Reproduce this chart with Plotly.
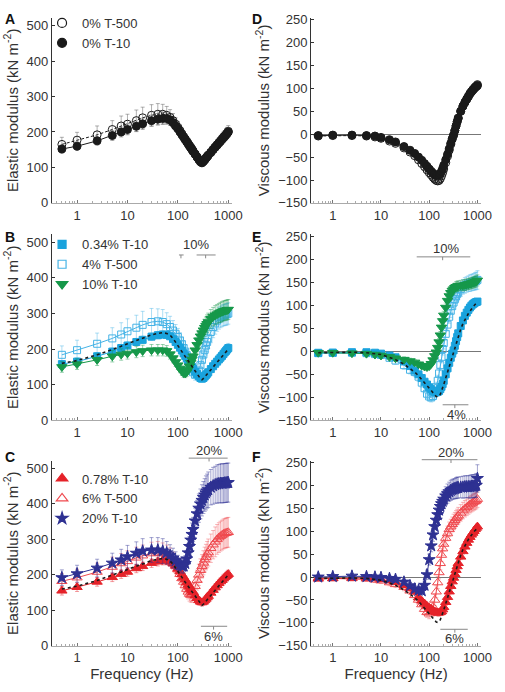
import math
import plotly.graph_objects as go

# ---------------- data ----------------
freq = [0.5, 1, 2.5, 5, 7.5, 10, 15, 20, 30, 40, 50,
        60, 70, 80, 90, 100, 110, 120, 130, 140, 150, 160, 170, 180, 190, 200,
        220, 240, 260, 280, 300, 320, 340, 360, 380, 400,
        450, 500, 550, 600, 650, 700, 750, 800, 850, 900, 950, 1000]

# Panel A (elastic, 0%)
el_0_t10 = [152, 160, 175, 190, 200, 207, 216, 223, 232, 236, 238,
            238, 234, 226, 217, 209, 200, 192, 185, 178, 172, 166, 160, 155, 150, 145,
            137, 129, 122, 116, 113, 117, 121, 126, 130, 134,
            142, 150, 157, 163, 169, 174, 179, 184, 188, 192, 196, 200]
el_0_t500 = [165, 177, 192, 207, 217, 222, 232, 240, 247, 250, 250,
             247, 241, 232, 222, 213, 204, 195, 187, 180, 174, 168, 162, 157, 152, 147,
             138, 130, 123, 117, 114, 117, 122, 127, 131, 135,
             143, 151, 158, 164, 170, 175, 180, 185, 189, 193, 197, 202]
err_el_0_t500 = [20, 22, 25, 25, 28, 28, 30, 30, 30, 30, 28,
                 25, 22, 20, 18, 16, 15, 14, 13, 12, 12, 11, 11, 10, 10, 10,
                 10, 10, 10, 10, 10, 10, 10, 11, 11, 11,
                 12, 12, 13, 13, 14, 14, 15, 15, 15, 16, 16, 16]
err_el_0_t10 = [12, 12, 12, 14, 14, 15, 15, 16, 16, 16, 16,
                15, 14, 13, 12, 12, 11, 11, 10, 10, 10, 10, 9, 9, 9, 9,
                9, 9, 9, 9, 9, 9, 9, 9, 9, 9,
                9, 10, 10, 10, 10, 10, 11, 11, 11, 11, 12, 12]
# control (dashed) elastic curve
ctrl_el = [160, 168, 184, 198, 208, 215, 224, 231, 240, 244, 246,
           244, 239, 230, 220, 211, 202, 194, 186, 179, 173, 167, 161, 156, 151, 146,
           138, 130, 123, 117, 114, 117, 121, 126, 130, 134,
           142, 150, 157, 163, 169, 174, 179, 184, 188, 192, 196, 200]

# Panel D (viscous, 0%)
vi_0_t10 = [-3, -2, -2, -3, -4, -7, -12, -17, -27, -35, -42,
            -50, -57, -64, -70, -76, -81, -85, -88, -90, -90, -89, -86, -81, -75, -68,
            -56, -44, -32, -20, -10, -2, 8, 18, 27, 35,
            50, 61, 69, 76, 82, 88, 92, 96, 99, 102, 104, 106]
vi_0_t500 = [-4, -3, -3, -4, -6, -9, -15, -20, -30, -39, -47,
             -56, -64, -71, -78, -84, -89, -94, -98, -101, -102, -101, -97, -91, -84, -76,
             -62, -48, -35, -22, -11, -2, 8, 18, 27, 35,
             50, 61, 70, 77, 83, 89, 93, 97, 100, 103, 105, 108]
err_vi_0 = [4, 4, 4, 4, 4, 4, 4, 4, 5, 5, 5,
            5, 5, 5, 5, 5, 5, 5, 5, 5, 5, 5, 5, 5, 5, 5,
            5, 5, 5, 5, 5, 5, 5, 5, 5, 5,
            5, 5, 5, 6, 6, 6, 6, 6, 7, 7, 7, 8]
ctrl_vi = [-3, -2, -2, -3, -5, -7, -13, -18, -28, -37, -45,
           -53, -61, -68, -75, -81, -86, -91, -95, -98, -99, -97, -93, -87, -80, -72,
           -58, -45, -32, -20, -9, 0, 9, 18, 26, 33,
           48, 60, 69, 76, 82, 87, 92, 96, 99, 102, 104, 106]

# Panel B (elastic)
el_034_t10 = [158, 165, 180, 193, 203, 210, 220, 226, 235, 239, 241,
              240, 236, 228, 220, 212, 204, 196, 188, 181, 174, 167, 161, 155, 150, 145,
              137, 130, 124, 119, 117, 119, 123, 127, 131, 135,
              144, 152, 159, 165, 171, 176, 181, 186, 191, 195, 199, 203]
err_el_034 = [10, 10, 10, 10, 10, 10, 10, 10, 10, 10, 10,
              9, 9, 9, 9, 9, 9, 9, 9, 9, 9, 9, 9, 9, 9, 9,
              9, 9, 9, 9, 9, 9, 10, 10, 10, 10,
              10, 10, 11, 11, 11, 12, 12, 12, 12, 13, 13, 13]
el_4_t500 = [184, 197, 215, 230, 241, 250, 260, 268, 276, 278, 276,
             270, 262, 252, 243, 234, 224, 214, 203, 193, 183, 173, 163, 153, 143, 135,
             128, 130, 140, 155, 170, 185, 198, 210, 220, 230,
             248, 262, 272, 280, 286, 290, 293, 295, 296, 297, 298, 300]
err_el_4 = [25, 28, 30, 30, 33, 35, 35, 38, 38, 35, 35,
            32, 30, 28, 26, 24, 22, 20, 18, 17, 16, 16, 15, 15, 15, 15,
            15, 16, 18, 20, 22, 24, 25, 26, 27, 28,
            30, 30, 30, 30, 30, 30, 30, 30, 30, 30, 30, 30]
el_10_t10 = [150, 158, 170, 180, 185, 188, 192, 195, 197, 197, 197,
             195, 186, 175, 164, 155, 146, 138, 133, 132, 136, 143, 152, 162, 171, 180,
             197, 212, 225, 236, 245, 253, 260, 266, 271, 276,
             285, 291, 295, 298, 301, 303, 305, 307, 308, 309, 310, 311]
err_el_10 = [15, 15, 16, 16, 16, 16, 16, 16, 16, 16, 16,
             15, 14, 13, 12, 12, 12, 12, 12, 12, 12, 13, 14, 15, 16, 17,
             18, 19, 20, 21, 22, 23, 24, 24, 25, 25,
             26, 26, 27, 27, 27, 28, 28, 28, 28, 28, 28, 28]

# Panel E (viscous)
vi_034_t10 = [-4, -3, -2, -2, -3, -5, -9, -13, -22, -32, -42,
              -50, -58, -66, -72, -78, -82, -86, -88, -89, -88, -86, -82, -77, -71, -64,
              -50, -37, -25, -14, -5, 2, 12, 22, 31, 39,
              55, 67, 77, 84, 90, 95, 99, 102, 104, 106, 107, 108]
err_vi_034 = [4, 4, 4, 4, 4, 4, 5, 5, 5, 5, 6,
              6, 6, 6, 7, 7, 7, 7, 7, 7, 7, 7, 7, 7, 7, 7,
              7, 7, 7, 7, 7, 7, 7, 7, 7, 7,
              6, 6, 6, 6, 6, 6, 6, 6, 6, 6, 6, 6]
vi_4_t500 = [-3, -3, -3, -4, -6, -8, -14, -20, -30, -40, -45,
             -55, -68, -80, -92, -98, -100, -97, -90, -78, -64, -48, -30, -12, 5, 18,
             38, 58, 75, 88, 98, 106, 113, 119, 124, 128,
             135, 140, 143, 145, 147, 148, 149, 150, 151, 152, 153, 155]
err_vi_4 = [6, 6, 6, 6, 7, 7, 8, 8, 9, 9, 10,
            10, 10, 10, 10, 10, 10, 10, 11, 11, 12, 12, 12, 13, 13, 13,
            14, 14, 14, 15, 15, 15, 15, 15, 16, 16,
            16, 16, 17, 17, 17, 18, 18, 18, 18, 19, 19, 20]
vi_10_t10 = [-3, -3, -4, -5, -7, -9, -12, -15, -18, -21, -24,
             -28, -31, -33, -34, -32, -27, -19, -10, -2, 8, 20, 35, 52, 66, 78,
             95, 110, 120, 127, 132, 135, 138, 140, 141, 142,
             143, 143, 144, 145, 146, 147, 148, 149, 150, 151, 152, 154]
err_vi_10 = [5, 5, 5, 5, 5, 5, 5, 5, 6, 6, 6,
             6, 6, 6, 6, 6, 6, 7, 7, 7, 8, 8, 8, 9, 9, 9,
             10, 10, 10, 10, 10, 10, 10, 11, 11, 11,
             11, 12, 12, 12, 12, 12, 12, 12, 12, 12, 12, 12]

# Panel C (elastic)
el_078_t10 = [155, 165, 180, 193, 202, 208, 218, 224, 233, 237, 240,
              240, 237, 232, 225, 217, 209, 201, 193, 186, 179, 172, 166, 160, 155, 150,
              141, 134, 128, 124, 122, 124, 128, 132, 136, 140,
              149, 157, 164, 170, 176, 181, 185, 189, 193, 196, 199, 202]
err_el_078 = [12, 12, 12, 12, 12, 12, 12, 12, 12, 12, 12,
              11, 11, 11, 11, 10, 10, 10, 10, 10, 10, 10, 10, 10, 10, 10,
              10, 10, 10, 10, 10, 10, 10, 10, 10, 10,
              10, 10, 10, 10, 10, 10, 10, 11, 11, 11, 11, 11]
el_6_t500 = [182, 192, 208, 222, 232, 238, 248, 254, 260, 262, 260,
             256, 250, 240, 228, 215, 202, 190, 180, 170, 160, 152, 146, 143, 145, 152,
             168, 185, 200, 213, 224, 234, 243, 250, 257, 263,
             275, 285, 293, 300, 305, 309, 312, 315, 317, 318, 319, 320]
err_el_6 = [22, 24, 25, 28, 28, 30, 30, 30, 32, 32, 30,
            28, 26, 24, 22, 20, 20, 20, 20, 20, 20, 20, 20, 20, 22, 24,
            26, 28, 30, 32, 33, 34, 35, 36, 37, 38,
            40, 40, 42, 42, 42, 42, 42, 42, 42, 42, 42, 42]
el_20_t10 = [192, 203, 219, 233, 242, 251, 261, 267, 270, 270, 267,
             262, 255, 247, 240, 233, 228, 225, 225, 232, 245, 262, 280, 298, 314, 328,
             352, 372, 388, 400, 410, 418, 425, 431, 436, 440,
             447, 451, 454, 456, 457, 458, 458, 458, 459, 459, 460, 460]
err_el_20 = [22, 24, 25, 28, 30, 32, 32, 35, 35, 35, 35,
             32, 30, 28, 25, 22, 20, 20, 20, 22, 24, 26, 28, 30, 32, 34,
             36, 38, 40, 42, 44, 45, 46, 48, 48, 50,
             50, 52, 52, 54, 54, 55, 55, 55, 55, 55, 55, 55]

# Panel F (viscous)
vi_078_t10 = [-4, -3, -2, -2, -3, -5, -8, -11, -18, -25, -32,
              -45, -52, -58, -63, -67, -70, -73, -75, -77, -78, -78, -77, -75, -71, -66,
              -55, -44, -32, -20, -10, -2, 6, 15, 23, 30,
              44, 56, 66, 74, 81, 87, 92, 96, 100, 104, 107, 110]
err_vi_078 = [4, 4, 4, 4, 4, 4, 4, 5, 5, 5, 5,
              6, 6, 6, 6, 7, 7, 7, 7, 7, 7, 7, 7, 7, 7, 7,
              7, 7, 7, 7, 7, 7, 7, 7, 7, 7,
              6, 6, 6, 6, 6, 6, 6, 6, 6, 6, 6, 6]
vi_6_t500 = [-2, -3, -3, -4, -6, -8, -12, -16, -22, -30, -40,
             -50, -60, -70, -77, -80, -75, -65, -50, -32, -12, 10, 30, 48, 62, 72,
             85, 95, 104, 110, 115, 120, 124, 128, 131, 134,
             140, 145, 149, 152, 155, 158, 160, 162, 164, 165, 167, 170]
err_vi_6 = [5, 5, 5, 5, 6, 6, 7, 7, 8, 8, 9,
            10, 10, 10, 11, 11, 12, 12, 12, 13, 13, 14, 14, 14, 15, 15,
            15, 16, 16, 16, 16, 17, 17, 17, 17, 18,
            18, 18, 18, 18, 18, 18, 18, 18, 18, 18, 18, 18]
vi_20_t10 = [0, 1, 2, 1, 0, -1, -3, -5, -11, -19, -26,
             -29, -30, -18, 5, 38, 68, 92, 110, 124, 136, 146, 154, 160, 165, 170,
             177, 182, 186, 189, 191, 192, 193, 194, 195, 195,
             196, 196, 197, 197, 197, 197, 198, 198, 198, 199, 200, 215]
err_vi_20 = [5, 5, 5, 5, 5, 5, 6, 6, 6, 7, 7,
             7, 8, 9, 10, 12, 13, 14, 15, 16, 17, 18, 18, 19, 19, 20,
             20, 21, 21, 22, 22, 22, 22, 23, 23, 23,
             23, 24, 24, 24, 24, 25, 25, 25, 25, 25, 26, 30]

# ---------------- styling ----------------
FONT = "Liberation Sans, Arial, sans-serif"
BLACK = "#1a1a1a"
CYAN = "#1aa3dd"
CYAN_L = "#45b3e6"
GREEN = "#16984a"
RED = "#e52229"
RED_L = "#ef4a4f"
NAVY = "#2e3192"

LX = [-0.5, 3.07]
RX = [-0.45, 3.08]
LY = [0, 522]
RY = [-150, 254]
COLX = {"L": [53 / 505, 237 / 505], "R": [318 / 505, 492 / 505]}
ROWY = [[1 - 201 / 692, 1 - 12 / 692], [1 - 423 / 692, 1 - 233 / 692], [1 - 653 / 692, 1 - 464 / 692]]

fig = go.Figure()


def series(x, y, err, ax, color, symbol, size, dash="solid", lcolor=None, ecolor=None,
           lwidth=1, mwidth=1):
    n = "" if ax == 1 else str(ax)
    fig.add_trace(go.Scatter(
        x=x, y=y, mode="lines+markers", xaxis="x" + n, yaxis="y" + n, showlegend=False,
        line=dict(color=lcolor or color, width=lwidth, dash=dash),
        marker=dict(symbol=symbol, size=size, color=color, line=dict(color=color, width=mwidth)),
        error_y=(dict(type="data", array=err, symmetric=True, color=ecolor or color,
                      thickness=0.8, width=2) if err is not None else None),
        cliponaxis=False,
    ))


def dashed(x, y, ax):
    n = "" if ax == 1 else str(ax)
    fig.add_trace(go.Scatter(x=x, y=y, mode="lines", xaxis="x" + n, yaxis="y" + n,
                             showlegend=False, line=dict(color=BLACK, width=1.6, dash="3px,3px")))


def legend_item(name, symbol, color, leg, size=9):
    fig.add_trace(go.Scatter(x=[None], y=[None], mode="markers", name=name, legend=leg,
                             marker=dict(symbol=symbol, size=size, color=color,
                                         line=dict(color=color, width=1.2))))


# Panel A (axis 1)
series(freq, el_0_t500, err_el_0_t500, 1, BLACK, "circle-open", 8, dash="3px,2px", ecolor="rgba(90,90,90,0.6)")
series(freq, el_0_t10, err_el_0_t10, 1, BLACK, "circle", 8, ecolor="rgba(90,90,90,0.6)")
legend_item("0% T-500", "circle-open", BLACK, "legend")
legend_item("0% T-10", "circle", BLACK, "legend")

# Panel D (axis 2)
series(freq, vi_0_t500, err_vi_0, 2, BLACK, "circle-open", 8, dash="3px,2px", ecolor="rgba(90,90,90,0.5)")
series(freq, vi_0_t10, err_vi_0, 2, BLACK, "circle", 8, ecolor="rgba(90,90,90,0.5)")

# Panel B (axis 3)
series(freq, el_4_t500, err_el_4, 3, CYAN_L, "square-open", 7, ecolor="rgba(69,179,230,0.55)")
series(freq, el_034_t10, err_el_034, 3, CYAN, "square", 7, ecolor="rgba(26,163,221,0.55)")
series(freq, el_10_t10, err_el_10, 3, GREEN, "triangle-down", 9, ecolor="rgba(22,152,74,0.55)")
dashed(freq, ctrl_el, 3)
legend_item("0.34% T-10", "square", CYAN, "legend2", 8)
legend_item("4% T-500", "square-open", CYAN_L, "legend2", 8)
legend_item("10% T-10", "triangle-down", GREEN, "legend2", 10)

# Panel E (axis 4)
series(freq, vi_4_t500, err_vi_4, 4, CYAN_L, "square-open", 7, ecolor="rgba(69,179,230,0.55)")
series(freq, vi_034_t10, err_vi_034, 4, CYAN, "square", 7, ecolor="rgba(26,163,221,0.55)")
series(freq, vi_10_t10, err_vi_10, 4, GREEN, "triangle-down", 9, ecolor="rgba(22,152,74,0.55)")
dashed(freq, ctrl_vi, 4)

# Panel C (axis 5)
series(freq, el_6_t500, err_el_6, 5, RED_L, "triangle-up-open", 9, ecolor="rgba(239,74,79,0.5)")
series(freq, el_078_t10, err_el_078, 5, RED, "triangle-up", 9, ecolor="rgba(229,34,41,0.55)")
series(freq, el_20_t10, err_el_20, 5, NAVY, "star", 9, ecolor="rgba(46,49,146,0.55)")
dashed(freq, ctrl_el, 5)
legend_item("0.78% T-10", "triangle-up", RED, "legend3", 10)
legend_item("6% T-500", "triangle-up-open", RED_L, "legend3", 10)
legend_item("20% T-10", "star", NAVY, "legend3", 9)

# Panel F (axis 6)
series(freq, vi_6_t500, err_vi_6, 6, RED_L, "triangle-up-open", 9, ecolor="rgba(239,74,79,0.5)")
series(freq, vi_078_t10, err_vi_078, 6, RED, "triangle-up", 9, ecolor="rgba(229,34,41,0.55)")
series(freq, vi_20_t10, err_vi_20, 6, NAVY, "star", 9, ecolor="rgba(46,49,146,0.55)")
dashed(freq, ctrl_vi, 6)

# ---------------- axes ----------------
minor_vals = [m * 10 ** e for e in range(-1, 3) for m in range(2, 10)]
panels = [  # axis index, column, row, y-title, x-title
    (1, "L", 0, "Elastic modulus (kN m<sup>-2</sup>)", None),
    (2, "R", 0, "Viscous modulus (kN m<sup>-2</sup>)", None),
    (3, "L", 1, "Elastic modulus (kN m<sup>-2</sup>)", None),
    (4, "R", 1, "Viscous modulus (kN m<sup>-2</sup>)", None),
    (5, "L", 2, "Elastic modulus (kN m<sup>-2</sup>)", "Frequency (Hz)"),
    (6, "R", 2, "Viscous modulus (kN m<sup>-2</sup>)", "Frequency (Hz)"),
]
layout = {}
for ax, col, row, ytitle, xtitle in panels:
    n = "" if ax == 1 else str(ax)
    right = col == "R"
    xa = dict(
        domain=COLX[col], type="log", range=RX if right else LX, anchor="y" + n,
        tickvals=[1, 10, 100, 1000], ticktext=["1", "10", "100", "1000"],
        ticks="inside", ticklen=3, tickcolor="#777", showline=True, linecolor="#aaa",
        linewidth=1, showgrid=False, zeroline=False,
        minor=dict(tickvals=minor_vals, ticks="inside", ticklen=2, tickcolor="#aaa", showgrid=False),
        tickfont=dict(size=13, color="#333", family=FONT),
    )
    if xtitle:
        xa["title"] = dict(text=xtitle, font=dict(size=15, color="#333", family=FONT), standoff=4)
    layout["xaxis" + n] = xa
    layout["yaxis" + n] = dict(
        domain=ROWY[row], range=RY if right else LY, anchor="x" + n,
        tickvals=[-150, -100, -50, 0, 50, 100, 150, 200, 250] if right else [0, 100, 200, 300, 400, 500],
        ticks="inside", ticklen=3, tickcolor="#333", showline=True, linecolor="#333", linewidth=1,
        showgrid=False, zeroline=right, zerolinecolor="#777", zerolinewidth=1,
        tickfont=dict(size=13, color="#333", family=FONT),
        title=dict(text=ytitle, font=dict(size=15, color="#333", family=FONT), standoff=4),
    )

legend_common = dict(bgcolor="rgba(0,0,0,0)", font=dict(size=13, color="#333", family=FONT),
                      xanchor="left", yanchor="top", itemwidth=30, tracegroupgap=0)
layout["legend"] = dict(x=43 / 505, y=1 - 2 / 692, **legend_common)
layout["legend2"] = dict(x=43 / 505, y=1 - 228 / 692, **legend_common)
layout["legend3"] = dict(x=43 / 505, y=1 - 467 / 692, **legend_common)


# ---------------- annotations: significance bars ----------------
def xd(f, rng):
    return (math.log10(f) - rng[0]) / (rng[1] - rng[0])


def yd(v, rng):
    return (v - rng[0]) / (rng[1] - rng[0])


shapes = []
annotations = []
GRAY = "#888"


def bar(ax, f0, f1, v, ftick, tick_up=False):
    n = "" if ax == 1 else str(ax)
    xr = RX if ax % 2 == 0 else LX
    yr = RY if ax % 2 == 0 else LY
    shapes.append(dict(type="line", xref="x" + n + " domain", yref="y" + n + " domain",
                       x0=xd(f0, xr), x1=xd(f1, xr), y0=yd(v, yr), y1=yd(v, yr),
                       line=dict(color=GRAY, width=1)))
    dv = (yr[1] - yr[0]) * 0.018 * (1 if tick_up else -1)
    shapes.append(dict(type="line", xref="x" + n + " domain", yref="y" + n + " domain",
                       x0=xd(ftick, xr), x1=xd(ftick, xr), y0=yd(v, yr), y1=yd(v + dv, yr),
                       line=dict(color=GRAY, width=1)))


def label(ax, f, v, text):
    n = "" if ax == 1 else str(ax)
    xr = RX if ax % 2 == 0 else LX
    yr = RY if ax % 2 == 0 else LY
    annotations.append(dict(xref="x" + n + " domain", yref="y" + n + " domain", x=xd(f, xr), y=yd(v, yr),
                            xanchor="center", yanchor="middle",
                            text=text, showarrow=False, font=dict(size=13, color="#333", family=FONT)))


# B
bar(3, 105, 130, 464, 115)
bar(3, 235, 560, 464, 355)
label(3, 225, 494, "10%")
# E
bar(4, 55, 710, 205, 190)
label(4, 220, 224, "10%")
bar(4, 190, 650, -116, 340)
label(4, 370, -137, "4%")
# C
bar(5, 164, 970, 529, 415)
label(5, 415, 551, "20%")
bar(5, 286, 950, 55, 510)
label(5, 510, 26, "6%")
# F
bar(6, 70, 1000, 256, 283)
label(6, 283, 272, "20%")
bar(6, 170, 630, -114, 340)
label(6, 340, -135, "6%")

# panel letters
for letter, px, py in [("A", 3, 3), ("B", 3, 226), ("C", 3, 450),
                       ("D", 256, 3), ("E", 256, 226), ("F", 256, 450)]:
    annotations.append(dict(xref="paper", yref="paper", x=px / 505, y=1 - py / 692,
                            xanchor="left", yanchor="top", text="<b>" + letter + "</b>",
                            showarrow=False, font=dict(size=14, color="#111", family=FONT)))

fig.update_layout(
    width=505, height=692, margin=dict(l=0, r=0, t=0, b=0),
    paper_bgcolor="white", plot_bgcolor="white",
    font=dict(family=FONT, color="#333"),
    shapes=shapes, annotations=annotations,
    **layout,
)

fig.write_html("out.html", config={"displayModeBar": False},
               post_script="document.body.style.margin='0px';")
